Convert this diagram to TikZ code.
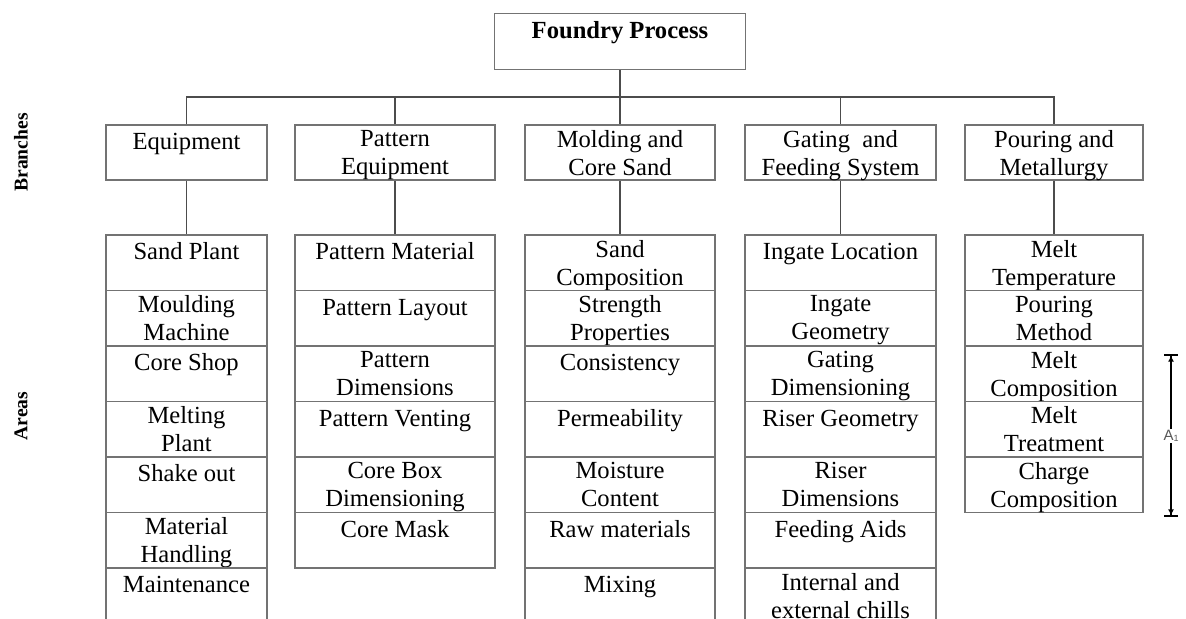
\documentclass[tikz,border=0pt]{standalone}
\usepackage{fontspec}
\setmainfont{Liberation Serif}
\newfontfamily\dimfont{Liberation Sans}
\usetikzlibrary{arrows.meta}

\tikzset{
    box/.style={draw=black!55,line width=0.75pt,inner sep=0pt,
        minimum height=27.75pt},
    txt/.style={anchor=north,inner sep=0pt,align=center,yshift=-2.8pt,
        font=\fontsize{12.3}{14}\selectfont,execute at begin node=\strut},
    link/.style={draw=black!70,line width=0.75pt},
    side/.style={rotate=90,inner sep=0pt,
        font=\fontsize{9.8}{11}\selectfont\bfseries},
}

\begin{document}
\begin{tikzpicture}[x=0.5pt,y=-0.5pt]
    \useasboundingbox (0,0) rectangle (1186,618);
    \clip (0,0) rectangle (1186,618);

    \node[side] (br) at (21,152.5) {Branches};
    \node[side] (ar) at (21,416) {Areas};

    % Proceso y ramas.
    \node[box,minimum width=125.5pt,minimum height=28pt] (fp) at (620,41.5) {};
    \node[txt,font=\fontsize{12.3}{14}\selectfont\bfseries] (fpt) at (fp.north)
        {Foundry Process};

    \node[box,minimum width=80.5pt,minimum height=27.5pt] (eq) at (186.5,152.5) {};
    \node[box,minimum width=100pt,minimum height=27.5pt] (pe) at (395,152.5) {};
    \node[box,minimum width=95pt,minimum height=27.5pt] (mc) at (620,152.5) {};
    \node[box,minimum width=95.5pt,minimum height=27.5pt] (gf) at (840.5,152.5) {};
    \node[box,minimum width=89pt,minimum height=27.5pt] (pm) at (1054,152.5) {};
    \node[txt] (eqt) at (eq.north) {Equipment};
    \node[txt] (pet) at (pe.north) {Pattern\\Equipment};
    \node[txt] (mct) at (mc.north) {Molding and\\Core Sand};
    \node[txt] (gft) at (gf.north) {Gating\ \ and\\Feeding System};
    \node[txt] (pmt) at (pm.north) {Pouring and\\Metallurgy};

    \coordinate (bus) at (620,97);
    \draw[link] (eq.north) |- (bus) -| (pm.north);
    \draw[link] (pe.north) -- (pe.north |- bus);
    \draw[link] (gf.north) -- (gf.north |- bus);
    \draw[link] (fp.south) -- (mc.north);

    % Areas de cada rama.
    \foreach \t [count=\i] in {Sand Plant,{Moulding\\Machine},Core Shop,
        {Melting\\Plant},Shake out,{Material\\Handling},Maintenance} {
        \node[box,minimum width=80.5pt] (eq\i) at (186.5,{262.75+55.5*(\i-1)}) {};
        \node[txt] (eq\i t) at (eq\i.north) {\t};
    }
    \foreach \t [count=\i] in {Pattern Material,Pattern Layout,
        {Pattern\\Dimensions},Pattern Venting,{Core Box\\Dimensioning},
        Core Mask} {
        \node[box,minimum width=100pt] (pe\i) at (395,{262.75+55.5*(\i-1)}) {};
        \node[txt] (pe\i t) at (pe\i.north) {\t};
    }
    \foreach \t [count=\i] in {{Sand\\Composition},{Strength\\Properties},
        Consistency,Permeability,{Moisture\\Content},Raw materials,Mixing} {
        \node[box,minimum width=95pt] (mc\i) at (620,{262.75+55.5*(\i-1)}) {};
        \node[txt] (mc\i t) at (mc\i.north) {\t};
    }
    \foreach \t [count=\i] in {Ingate Location,{Ingate\\Geometry},
        {Gating\\Dimensioning},Riser Geometry,{Riser\\Dimensions},
        Feeding Aids,{Internal and\\external chills}} {
        \node[box,minimum width=95.5pt] (gf\i) at (840.5,{262.75+55.5*(\i-1)}) {};
        \node[txt] (gf\i t) at (gf\i.north) {\t};
    }
    \foreach \t [count=\i] in {{Melt\\Temperature},{Pouring\\Method},
        {Melt\\Composition},{Melt\\Treatment},{Charge\\Composition}} {
        \node[box,minimum width=89pt] (pm\i) at (1054,{262.75+55.5*(\i-1)}) {};
        \node[txt] (pm\i t) at (pm\i.north) {\t};
    }

    \draw[link] (eq.south) -- (eq1.north);
    \draw[link] (pe.south) -- (pe1.north);
    \draw[link] (mc.south) -- (mc1.north);
    \draw[link] (gf.south) -- (gf1.north);
    \draw[link] (pm.south) -- (pm1.north);

    % Cota A1.
    \coordinate (dtop) at (1171,354);
    \coordinate (dbot) at (1171,517);
    \draw[line width=0.8pt,
        {Bar[width=7pt]Latex[length=3pt,width=3pt]}-{Latex[length=3pt,width=3pt]Bar[width=7pt]}]
        (dtop) -- (dbot);
    \node[fill=white,inner sep=1pt,text=black!65,
        font=\dimfont\fontsize{7.5}{8}\selectfont] (aone) at (1171,436)
        {A\raisebox{-0.3pt}{\fontsize{4.5}{5}\selectfont 1}};
\end{tikzpicture}
\end{document}
